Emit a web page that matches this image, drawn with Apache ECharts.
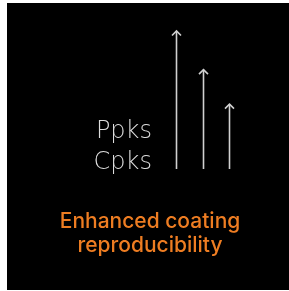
<!DOCTYPE html>
<html>
<head>
<meta charset="utf-8">
<script src="https://cdn.jsdelivr.net/npm/echarts@6/dist/echarts.min.js"></script>
<style>
  html, body { margin: 0; padding: 0; background: #fff; }
  #chart { width: 289px; height: 291px; }
</style>
</head>
<body>
<div id="chart"></div>
<script>
// arrow heights, relative (tallest = 100)
const categories = ['A', 'B', 'C']
const values = [100, 72, 47]
const labels = ['Ppks', 'Cpks']
const caption = ['Enhanced coating', 'reproducibility']

const myChart = echarts.init(document.getElementById('chart'))

const labelFont = '200 24px "DejaVu Sans", sans-serif'
const captionFont = '500 21px Inter, sans-serif'

const option = {
  animation: false,
  graphic: [
    {
      type: 'rect',
      shape: { x: 7, y: 3, width: 282, height: 287 },
      style: { fill: '#000' },
      z: -10
    },
    {
      type: 'text',
      x: 152,
      y: 120,
      style: { text: labels[0], fill: '#dcdcdc', font: labelFont, align: 'right' }
    },
    {
      type: 'text',
      x: 152,
      y: 151,
      style: { text: labels[1], fill: '#dcdcdc', font: labelFont, align: 'right' }
    },
    {
      type: 'text',
      x: 150,
      y: 211,
      style: { text: caption[0], fill: '#ee7d22', font: captionFont, align: 'center' }
    },
    {
      type: 'text',
      x: 150,
      y: 235,
      style: { text: caption[1], fill: '#ee7d22', font: captionFont, align: 'center' }
    }
  ],
  grid: {
    left: 163,
    top: 31,
    width: 79.5,
    height: 138
  },
  xAxis: {
    type: 'category',
    data: categories,
    show: false
  },
  yAxis: {
    type: 'value',
    min: 0,
    max: 100,
    show: false
  },
  series: [
    {
      type: 'custom',
      renderItem: function (params, api) {
        const base = api.coord([api.value(0), 0])
        const tip = api.coord([api.value(0), api.value(1)])
        const x = Math.round(base[0]) + 0.5
        return {
          type: 'group',
          children: [
            {
              type: 'line',
              shape: { x1: x, y1: base[1], x2: x, y2: tip[1] },
              style: { stroke: '#d0d0d0', lineWidth: 1.6 }
            },
            {
              type: 'polyline',
              shape: {
                points: [[x - 4.5, tip[1] + 4.5], [x, tip[1]], [x + 4.5, tip[1] + 4.5]]
              },
              style: { stroke: '#d0d0d0', lineWidth: 1.6, fill: null }
            }
          ]
        }
      },
      data: values.map((v, i) => [i, v])
    }
  ]
}
myChart.setOption(option)
</script>
</body>
</html>
